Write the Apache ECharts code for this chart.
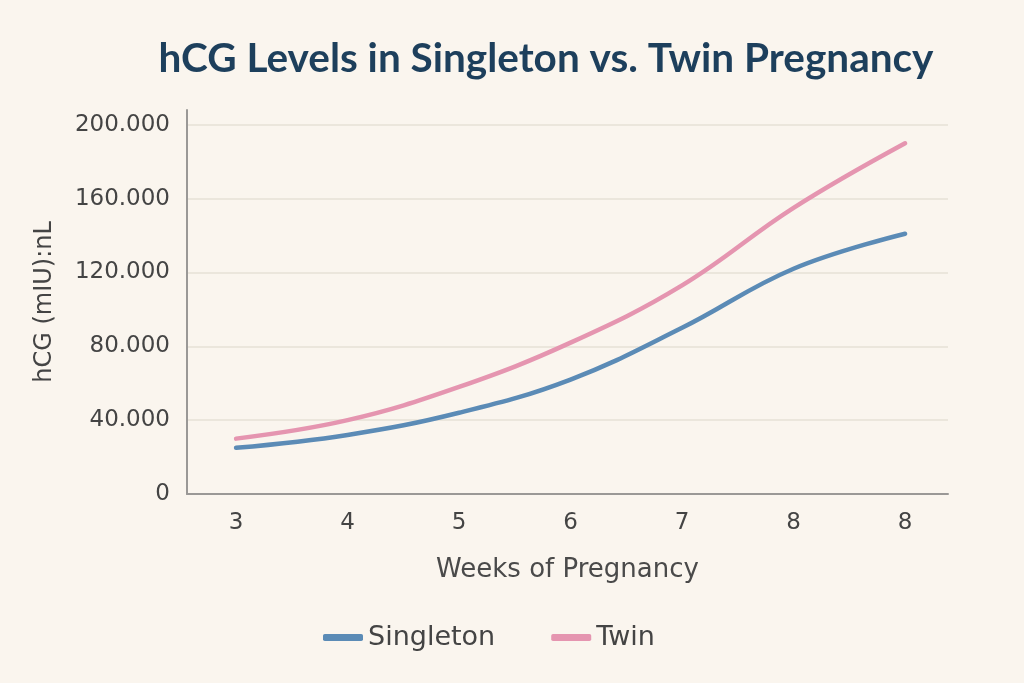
<!DOCTYPE html>
<html><head><meta charset="utf-8">
<script src="https://cdn.jsdelivr.net/npm/echarts@6/dist/echarts.min.js"></script>
<style>html,body{margin:0;padding:0;background:#faf5ee;}#c{width:1024px;height:683px;}</style>
</head><body><div id="c"></div>
<script>
const weekLabels = ['3','4','5','6','7','8','8'];
const singleton = [25000, 32000, 44000, 62000, 90000, 122000, 141000];
const twin = [30000, 40000, 58000, 82000, 113000, 155000, 190000];
const yTicks = [0, 40000, 80000, 120000, 160000, 200000];

function fmtDot(v){ return v === 0 ? '0' : String(v).replace(/\B(?=(\d{3})+(?!\d))/g, '.'); }
const toPairs = arr => arr.map((v,i)=>[i,v]);
const xIdx = weekLabels.map((_,i)=>i);

const chart = echarts.init(document.getElementById('c'));
chart.setOption({
  backgroundColor:'#faf5ee',
  title:{text:'hCG Levels in Singleton vs. Twin Pregnancy', left:541, top:33, textAlign:'center',
    textStyle:{fontFamily:'Lato', fontWeight:'bold', fontSize:40.5, color:'#1d3f5c'}},
  grid:{left:187, right:76, top:110, bottom:189},
  xAxis:{type:'value', min:-0.44, max:6.385,
    name:'Weeks of Pregnancy', nameLocation:'middle', nameGap:63,
    nameTextStyle:{fontFamily:'DejaVu Sans', fontSize:26, color:'#4a4a4a'},
    axisLine:{show:true, onZero:false, lineStyle:{color:'#9a9896', width:2}},
    axisTick:{show:false}, splitLine:{show:false},
    axisLabel:{customValues:xIdx, fontFamily:'DejaVu Sans', fontSize:23, color:'#444', margin:18,
      formatter:v=>{const i=Math.round(v); return weekLabels[i]!==undefined ? weekLabels[i] : '';}}},
  yAxis:{type:'value', min:0, max:208000, interval:40000,
    name:'hCG (mIU):nL', nameLocation:'middle', nameGap:130, nameRotate:90,
    nameTextStyle:{fontFamily:'DejaVu Sans', fontSize:24, color:'#444'},
    axisLine:{show:true, onZero:false, lineStyle:{color:'#9a9896', width:2}},
    axisTick:{show:false},
    splitLine:{show:true, showMaxLine:false, lineStyle:{color:'#e6e0d6', width:1.5}},
    axisLabel:{fontFamily:'DejaVu Sans', fontSize:23, color:'#444', margin:17,
      formatter:v=> yTicks.indexOf(v)>=0 ? fmtDot(v) : ''}},
  legend:{left:318, top:619, itemWidth:40, itemHeight:7, itemGap:56, icon:'roundRect',
    textStyle:{fontFamily:'DejaVu Sans', fontSize:27, color:'#444'},
    data:['Singleton','Twin']},
  series:[
    {name:'Singleton', type:'line', smooth:0.4, showSymbol:false, data:toPairs(singleton),
      color:'#5b8bb6', lineStyle:{width:4.5, color:'#5b8bb6', cap:'round'}},
    {name:'Twin', type:'line', smooth:0.4, showSymbol:false, data:toPairs(twin),
      color:'#e595b0', lineStyle:{width:4.5, color:'#e595b0', cap:'round'}}
  ]
});
</script></body></html>
